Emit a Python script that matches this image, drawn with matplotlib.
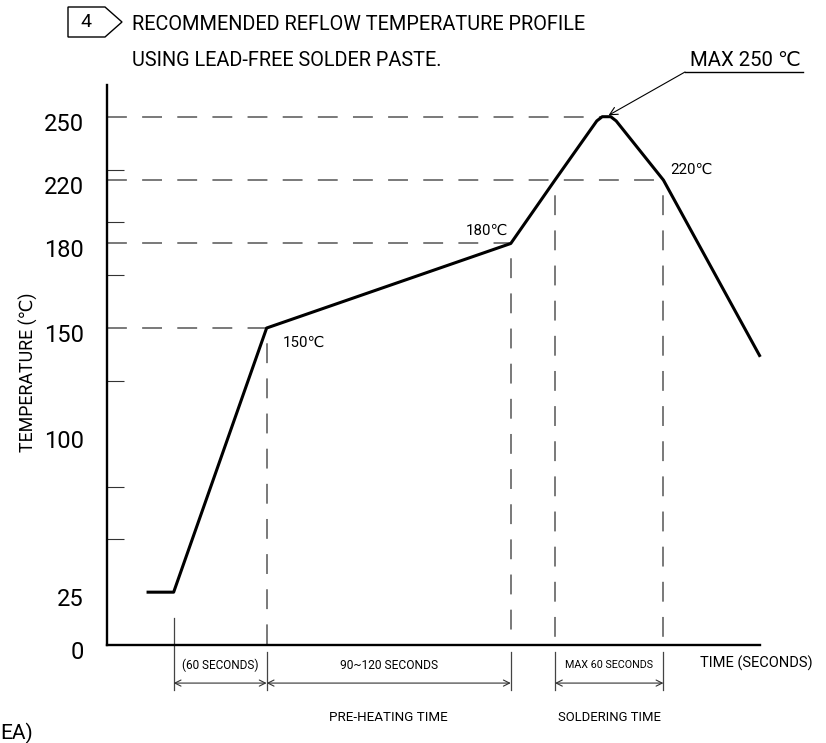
import numpy as np
import matplotlib
matplotlib.use('Agg')
import matplotlib.pyplot as plt
from matplotlib.patches import Polygon
from matplotlib.lines import Line2D
from matplotlib.transforms import ScaledTranslation

# reflow profile (time axis is schematic, no numbers shown)
TIME_S = [26.5, 43, 103, 260.5, 289, 316, 319.5, 325, 328.5, 359, 421]
TEMP_C = [25, 25, 150, 180, 220, 248, 250, 250, 248, 220, 137]

# labelled temperatures on the y axis
Y_LABELS = [0, 25, 100, 150, 180, 220, 250]
# the drawing's y axis is not linear: where each labelled temperature sits (tick units)
TEMP_BREAKS = [0, 25, 100, 150, 180, 220, 250, 300]
TICK_UNITS = [0, 1, 4, 6, 7.6, 8.8, 10, 12]

# key points: (time, temp, label)
KEY_POINTS = [(103, 150, '150℃'), (260.5, 180, '180℃'), (359, 220, '220℃')]
PEAK = (322, 250)
CROSS_220 = (289, 220)

# dimension spans under the time axis
SPANS = [(43, 103, '(60 SECONDS)', ''),
         (103, 260.5, '90~120 SECONDS', 'PRE-HEATING TIME'),
         (289, 359, 'MAX 60 SECONDS', 'SOLDERING TIME')]

plt.rcParams['font.family'] = ['Roboto', 'DejaVu Sans']

W, H = 826, 743


def fx(px):
    return px / W


def fy(py):
    return 1 - py / H


def fwd(t):
    return np.interp(t, TEMP_BREAKS, TICK_UNITS)


def inv(u):
    return np.interp(u, TICK_UNITS, TEMP_BREAKS)


fig = plt.figure(figsize=(W / 100, H / 100), dpi=100)
fig.patch.set_facecolor('white')
renderer = fig.canvas.get_renderer()


def fit(txt, size_px, vertical=False):
    # scale the font so the text spans size_px pixels
    bb = txt.get_window_extent(renderer)
    cur = bb.height if vertical else bb.width
    txt.set_fontsize(txt.get_fontsize() * size_px / cur)
    return txt


ax = fig.add_axes([fx(107), fy(645), (760 - 107) / W, (645 - 85) / H])
ax.set_yscale('function', functions=(fwd, inv))
ax.set_xlim(0, 421.3)
ax.set_ylim(0, 265)

for s in ['top', 'right']:
    ax.spines[s].set_visible(False)
for s in ['left', 'bottom']:
    ax.spines[s].set_linewidth(1.7)
    ax.spines[s].set_color('black')

ax.set_xticks([])
ax.set_yticks(Y_LABELS)
ax.set_yticklabels([str(v) for v in Y_LABELS])
ax.set_yticks(inv(np.arange(1, 11)), minor=True)
ax.tick_params(axis='y', which='major', length=0, pad=16.5, labelsize=17)
ax.tick_params(axis='y', which='minor', direction='in', length=12.2,
               width=0.8, color='#333333')
off = ScaledTranslation(0, -5 / 100, fig.dpi_scale_trans)
for lab in ax.get_yticklabels():
    lab.set_transform(lab.get_transform() + off)

dash_h = (0, (13, 10))
dash_v = (13, (13, 10))
gray = '#555555'

# horizontal guide lines
for t, temp in [(103, 150), (260.5, 180), (359, 220), (319.5, 250)]:
    ax.plot([0, t], [temp, temp], ls=dash_h, lw=1.1, color=gray)
# vertical guide lines
for t, temp in [(103, 150), (260.5, 180), CROSS_220, (359, 220)]:
    ax.plot([t, t], [temp, 0], ls=dash_v, lw=1.1, color=gray)

# the profile
ax.plot(TIME_S, TEMP_C, color='black', lw=2.2, solid_joinstyle='round',
        clip_on=False, zorder=5)

for t, temp, lab in KEY_POINTS:
    if lab == '150℃':
        xy_off, ha = (16, -15), 'left'
    elif lab == '180℃':
        xy_off, ha = (-3, 13), 'right'
    else:
        xy_off, ha = (7, 10), 'left'
    a = ax.annotate(lab, xy=(t, temp), xytext=xy_off, textcoords='offset pixels',
                    ha=ha, va='center', fontsize=13)
    fit(a, 42)

# dimension lines below the axis
bt = ax.get_xaxis_transform()
for t in [43, 103, 260.5, 289, 359]:
    top = 0.048 if t == 43 else -0.0125
    ax.plot([t, t], [top, -0.080], transform=bt, color='#444444', lw=0.9,
            clip_on=False)
upper_w = {'(60 SECONDS)': 76, '90~120 SECONDS': 98, 'MAX 60 SECONDS': 88}
lower_w = {'PRE-HEATING TIME': 118, 'SOLDERING TIME': 102}
for t0, t1, upper, lower in SPANS:
    ax.annotate('', xy=(t1, -0.068), xytext=(t0, -0.068), xycoords=bt,
                textcoords=bt,
                arrowprops=dict(arrowstyle='<->', lw=0.8, color='#333333',
                                shrinkA=0, shrinkB=0, mutation_scale=11))
    mid = (t0 + t1) / 2
    tx = ax.text(mid, -0.036, upper, transform=bt, ha='center', va='center',
                 fontsize=10, clip_on=False)
    fit(tx, upper_w[upper])
    if lower:
        tx = ax.text(mid, -0.129, lower, transform=bt, ha='center',
                     va='center', fontsize=12, clip_on=False)
        fit(tx, lower_w[lower])

# MAX 250 leader
ax.annotate('', xy=PEAK, xycoords='data', xytext=(fx(685), fy(72)),
            textcoords='figure fraction',
            arrowprops=dict(arrowstyle='->', lw=0.8, color='black',
                            shrinkA=0, shrinkB=2, mutation_scale=14))
fig.add_artist(Line2D([fx(685), fx(803)], [fy(72), fy(72)],
                      transform=fig.transFigure, color='black', lw=1.0))
fit(fig.text(fx(690), fy(66), 'MAX 250 ℃', ha='left', va='baseline',
             fontsize=17), 112)

# title block
fig.add_artist(Polygon([(fx(68), fy(7)), (fx(105), fy(7)), (fx(122), fy(22)),
                        (fx(105), fy(37)), (fx(68), fy(37))], closed=True,
                       fill=False, edgecolor='black', lw=1.0,
                       transform=fig.transFigure))
fig.text(fx(86), fy(22), '4', ha='center', va='center', fontsize=14)
t1 = fit(fig.text(fx(132), fy(25), 'RECOMMENDED REFLOW TEMPERATURE PROFILE',
                  ha='left', va='center', fontsize=16), 455)
fig.text(fx(132), fy(60), 'USING LEAD-FREE SOLDER PASTE.',
         ha='left', va='center', fontsize=t1.get_fontsize())

fit(fig.text(fx(28), fy(372), 'TEMPERATURE (℃)', rotation=90, ha='center',
             va='center', fontsize=14), 160, vertical=True)
fit(fig.text(fx(700), fy(663), 'TIME (SECONDS)', ha='left', va='center',
             fontsize=12), 112)
fig.text(fx(0), fy(733), 'EA)', ha='left', va='center', fontsize=15)

fig.savefig('out.png', dpi=100, facecolor='white')
